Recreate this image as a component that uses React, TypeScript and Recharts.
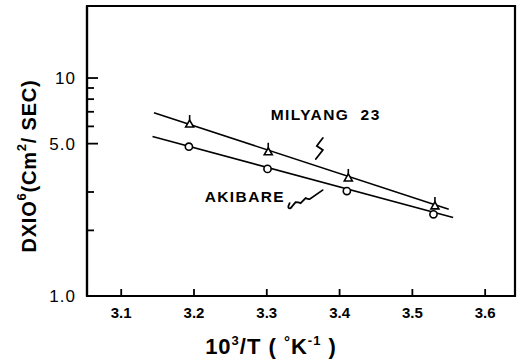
import React from 'react';
import { ComposedChart, Scatter, XAxis, YAxis, ReferenceArea, ReferenceDot } from 'recharts';

// reciprocal temperature 10^3/T (1/K)
const milyangX = [3.194, 3.302, 3.412, 3.531];
const milyangY = [6.15, 4.59, 3.48, 2.59];
const akibareX = [3.193, 3.301, 3.41, 3.529];
const akibareY = [4.84, 3.83, 3.03, 2.37];
// fitted straight lines (end points)
const milyangFitX = [3.145, 3.55];
const milyangFitY = [6.93, 2.5];
const akibareFitX = [3.143, 3.556];
const akibareFitY = [5.39, 2.29];

const xTicks = [3.1, 3.2, 3.3, 3.4, 3.5, 3.6];
const xTickLabels = ['3.1', '3.2', '3.3', '3.4', '3.5', '3.6'];
const yTicks = [1, 2, 3, 5, 6, 7, 8, 9, 10];
const yTickLabelValues = [1, 5, 10];
const yTickLabels = ['1.0', '5.0', '10'];
const xDomain = [3.053, 3.641];
const yDomain = [1, 21.4];

// annotations
const seriesNames = ['MILYANG  23', 'AKIBARE'];
const labelX = [3.3055, 3.2147];
const labelY = [6.42, 2.7];
const squiggleX = [3.377, 3.33];
const squiggleY = [5.31, 2.53];

const zip = (xs: number[], ys: number[]) => xs.map((x, i) => ({ x, y: ys[i] }));
const milyangData = zip(milyangX, milyangY);
const akibareData = zip(akibareX, akibareY);
const milyangFit = zip(milyangFitX, milyangFitY);
const akibareFit = zip(akibareFitX, akibareFitY);

const FONT = '"Liberation Sans", Arial, sans-serif';
const AXIS = { stroke: '#000', strokeWidth: 2.2 };

const Triangle = (props: any) => {
  const { cx, cy } = props;
  if (cx == null || cy == null) return <g />;
  return (
    <g>
      <line x1={cx} y1={cy - 9} x2={cx} y2={cy - 3} stroke="#000" strokeWidth={1.6} />
      <path d={`M${cx},${cy - 4} L${cx + 4},${cy + 3} L${cx - 4},${cy + 3} Z`} fill="#fff" stroke="#000" strokeWidth={1.6} />
    </g>
  );
};

const Circle = (props: any) => {
  const { cx, cy } = props;
  if (cx == null || cy == null) return <g />;
  return <circle cx={cx} cy={cy} r={3.6} fill="#fff" stroke="#000" strokeWidth={1.6} />;
};

const Nothing = () => <g />;

const XTick = (props: any) => {
  const { x, y, payload } = props;
  return (
    <g>
      <line x1={x} y1={y} x2={x} y2={y - 7} stroke="#000" strokeWidth={1.8} />
      <text x={x} y={y + 22} textAnchor="middle" fontFamily={FONT} fontWeight="bold" fontSize={15} fill="#000">
        {xTickLabels[xTicks.indexOf(payload.value)] ?? ''}
      </text>
    </g>
  );
};

const YTick = (props: any) => {
  const { x, y, payload } = props;
  const li = yTickLabelValues.indexOf(payload.value);
  const major = li >= 0;
  return (
    <g>
      <line x1={x} y1={y} x2={x + (major ? 11 : 7)} y2={y} stroke="#000" strokeWidth={1.8} />
      {major ? (
        <text x={x - 11} y={y + 6} textAnchor="end" fontFamily={FONT} fontSize={17} letterSpacing={1} fill="#000">
          {yTickLabels[li]}
        </text>
      ) : null}
    </g>
  );
};

const makeLabel = (text: string) => (props: any) => {
  const { cx, cy } = props;
  if (cx == null || cy == null) return <g />;
  return (
    <text x={cx} y={cy} fontFamily={FONT} fontWeight="bold" fontSize={15.5} letterSpacing={1.4} fill="#000" style={{ whiteSpace: 'pre' }}>
      {text}
    </text>
  );
};

const MilyangSquiggle = (props: any) => {
  const { cx, cy } = props;
  if (cx == null || cy == null) return <g />;
  return (
    <path
      d={`M${cx},${cy} Q${cx - 4},${cy + 5} ${cx - 6},${cy + 8} L${cx},${cy + 12} L${cx - 7},${cy + 21}`}
      fill="none"
      stroke="#000"
      strokeWidth={1.8}
      strokeLinecap="round"
    />
  );
};

const AkibareSquiggle = (props: any) => {
  const { cx, cy } = props;
  if (cx == null || cy == null) return <g />;
  return (
    <path
      d={`M${cx + 1},${cy - 5} Q${cx - 2},${cy + 1} ${cx + 2},${cy} L${cx + 7},${cy - 6} Q${cx + 10},${cy - 6} ${cx + 12},${cy - 5} L${cx + 17},${cy - 10} Q${cx + 19},${cy - 9} ${cx + 21},${cy - 9} L${cx + 34},${cy - 18}`}
      fill="none"
      stroke="#000"
      strokeWidth={1.8}
      strokeLinecap="round"
    />
  );
};

const YTitle = () => {
  const cx = 36;
  const cy = 166;
  return (
    <text
      x={cx}
      y={cy}
      transform={`rotate(-90, ${cx}, ${cy})`}
      textAnchor="middle"
      fontFamily={FONT}
      fontWeight="bold"
      fontSize={20}
      letterSpacing={0.8}
      fill="#000"
      style={{ whiteSpace: 'pre' }}
    >
      <tspan>DXIO</tspan>
      <tspan fontSize={13} dy={-10}>6</tspan>
      <tspan dy={10}>(Cm</tspan>
      <tspan fontSize={13} dy={-10}>2</tspan>
      <tspan dy={10}>/ SEC)</tspan>
    </text>
  );
};

const XTitle = () => {
  return (
    <text x={271} y={354} textAnchor="middle" fontFamily={FONT} fontWeight="bold" fontSize={22} letterSpacing={1} fill="#000" style={{ whiteSpace: 'pre' }}>
      <tspan>10</tspan>
      <tspan fontSize={13} dy={-9}>3</tspan>
      <tspan dy={9}>/T ( </tspan>
      <tspan fontSize={15} dy={-7}>°</tspan>
      <tspan dy={7}>K</tspan>
      <tspan fontSize={13} dy={-9}>-1</tspan>
      <tspan dy={9}> )</tspan>
    </text>
  );
};

export default function App() {
  return (
    <div style={{ position: 'absolute', left: 0, top: 0, width: 523, height: 359, background: '#fff' }}>
      <ComposedChart width={523} height={359} margin={{ top: 6, right: 8, bottom: 0, left: 0 }}>
        <XAxis
          type="number"
          dataKey="x"
          domain={xDomain}
          ticks={xTicks}
          allowDataOverflow
          height={63}
          axisLine={AXIS}
          tickLine={false}
          tickSize={0}
          tickMargin={0}
          tick={<XTick />}
          interval={0}
        />
        <YAxis
          type="number"
          dataKey="y"
          scale="log"
          domain={yDomain}
          ticks={yTicks}
          allowDataOverflow
          width={87}
          axisLine={AXIS}
          tickLine={false}
          tickSize={0}
          tickMargin={0}
          tick={<YTick />}
          interval={0}
        />
        <ReferenceArea
          x1={xDomain[0]}
          x2={xDomain[1]}
          y1={yDomain[0]}
          y2={yDomain[1]}
          fill="none"
          fillOpacity={0}
          stroke="#000"
          strokeWidth={2.2}
          ifOverflow="visible"
        />
        <Scatter data={milyangFit} line={{ stroke: '#000', strokeWidth: 1.6 }} shape={<Nothing />} isAnimationActive={false} />
        <Scatter data={akibareFit} line={{ stroke: '#000', strokeWidth: 1.6 }} shape={<Nothing />} isAnimationActive={false} />
        <Scatter data={milyangData} shape={<Triangle />} isAnimationActive={false} />
        <Scatter data={akibareData} shape={<Circle />} isAnimationActive={false} />
        <ReferenceDot x={labelX[0]} y={labelY[0]} shape={makeLabel(seriesNames[0])} ifOverflow="visible" />
        <ReferenceDot x={labelX[1]} y={labelY[1]} shape={makeLabel(seriesNames[1])} ifOverflow="visible" />
        <ReferenceDot x={squiggleX[0]} y={squiggleY[0]} shape={<MilyangSquiggle />} ifOverflow="visible" />
        <ReferenceDot x={squiggleX[1]} y={squiggleY[1]} shape={<AkibareSquiggle />} ifOverflow="visible" />
        <YTitle />
        <XTitle />
      </ComposedChart>
    </div>
  );
}
